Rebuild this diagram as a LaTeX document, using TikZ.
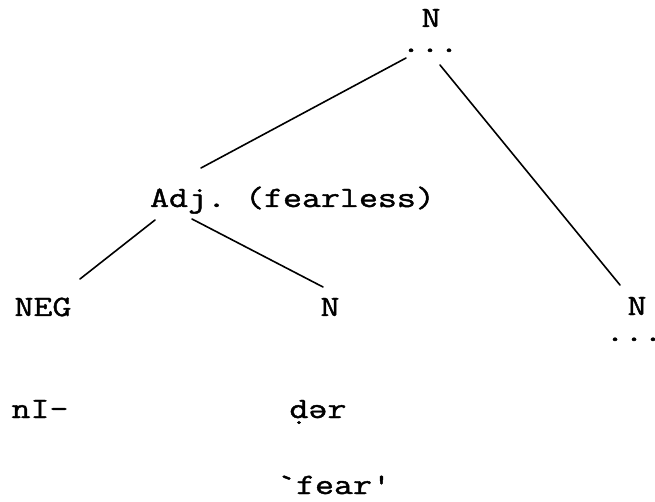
\documentclass[tikz,border=0pt]{standalone}
\usepackage{fontspec}
\setmonofont{Latin Modern Mono}[FakeStretch=1.25,FakeBold=1.4]
\begin{document}
\begin{tikzpicture}[x=1pt,y=-1pt,
  lbl/.style={anchor=base,inner sep=0pt,font=\fontsize{29.5}{34}\selectfont\ttfamily},
  edge/.style={line width=1.6pt,line cap=round}]
\useasboundingbox (0,0) rectangle (655,502);
\node[lbl] (topN) at (431,27) {N};
\node[lbl] (topdots) at (430,52) {...};
\node[lbl] (adj) at (292.5,207) {Adj. (fearless)};
\node[lbl] (neg) at (43,316) {NEG};
\node[lbl] (midN) at (330,316) {N};
\node[lbl] (rightN) at (637,315) {N};
\node[lbl] (rightdots) at (634,341) {...};
\node[lbl] (nI) at (40,418) {nI-};
\node[lbl] (dar) at (318,418) {ḍər};
\node[lbl] (fear) at (334,494) {`fear'};
\draw[edge] ([shift={(-24,6)}]topdots.base) -- ([shift={(-91.5,-39)}]adj.base);
\draw[edge] ([shift={(10,13)}]topdots.base) -- ([shift={(-17,-30)}]rightN.base);
\draw[edge] ([shift={(-137.5,13)}]adj.base) -- ([shift={(37,-37)}]neg.base);
\draw[edge] ([shift={(-100.5,12)}]adj.base) -- ([shift={(-7,-29)}]midN.base);
\end{tikzpicture}
\end{document}
